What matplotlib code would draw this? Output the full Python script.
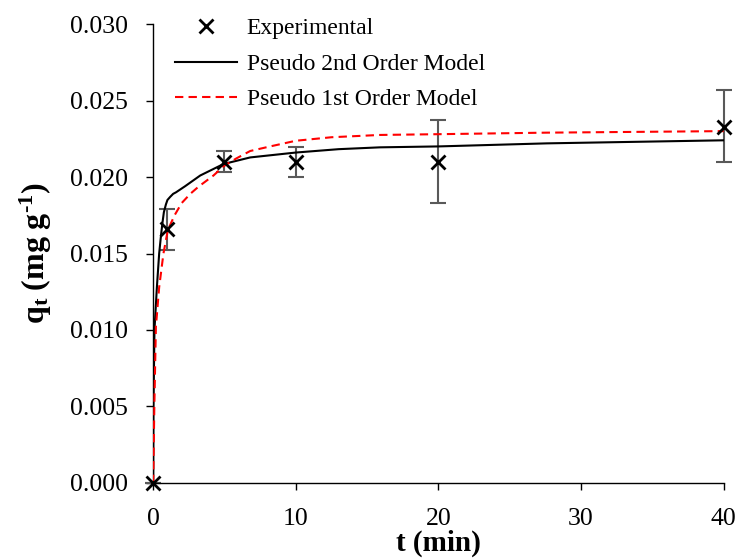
import numpy as np
import matplotlib
matplotlib.use('Agg')
import matplotlib.pyplot as plt

plt.rcParams['font.family'] = 'Liberation Serif'
plt.rcParams['mathtext.fontset'] = 'custom'
plt.rcParams['mathtext.rm'] = 'Liberation Serif'
plt.rcParams['mathtext.it'] = 'Liberation Serif:italic'
plt.rcParams['mathtext.bf'] = 'Liberation Serif:bold'

# experimental points with error bars
t_exp = [0, 1, 5, 10, 20, 40]
q_exp = [0.0, 0.0166, 0.0210, 0.0210, 0.0210, 0.0233]
err_low = [0.0, 0.00137, 0.00070, 0.00100, 0.00270, 0.00230]
err_high = [0.0, 0.00130, 0.00067, 0.00098, 0.00270, 0.00240]

# pseudo 2nd order model curve
t_pso = [0, 0.02, 0.09, 0.26, 0.42, 0.55, 0.65, 0.75, 0.89, 1.0, 1.19, 1.4, 1.6, 2.24, 3.3, 4.93, 6.8, 10,
         13, 15.9, 20, 27.6, 40]
q_pso = [0, 0.0050, 0.0100, 0.0128, 0.0150, 0.0162, 0.0170, 0.0177, 0.0182, 0.0185, 0.0187, 0.0189, 0.0190,
         0.0194, 0.0201, 0.02085, 0.02128, 0.0216, 0.02182, 0.02194, 0.0220, 0.0222, 0.0224]

# pseudo 1st order model curve
t_pfo = [0, 0.08, 0.19, 0.42, 0.72, 1.03, 1.5, 2.0, 2.6, 3.18, 4.23, 4.93, 5.8, 6.8, 8.2, 10, 12.5, 15.9,
         20, 27.6, 40]
q_pfo = [0, 0.0050, 0.0102, 0.0128, 0.0150, 0.01654, 0.0175, 0.0183, 0.0189, 0.01937, 0.0201, 0.0207,
         0.0212, 0.0217, 0.0220, 0.02237, 0.0226, 0.02275, 0.0228, 0.0229, 0.0230]

fig = plt.figure(figsize=(7.4, 5.59), dpi=100)
ax = fig.add_axes([0.207, 0.136, 0.771, 0.821])

ax.errorbar(t_exp, q_exp, yerr=[err_low, err_high], fmt='none', ecolor='#595959',
            elinewidth=1.5, capsize=5.5, capthick=1.5, zorder=2, clip_on=False)
ax.plot(t_exp, q_exp, 'x', color='black', markersize=10, markeredgewidth=2,
        label='Experimental', zorder=4, clip_on=False)
ax.plot(t_pso, q_pso, '-', color='black', linewidth=1.5, label='Pseudo 2nd Order Model', zorder=3)
ax.plot(t_pfo, q_pfo, '--', color='red', linewidth=1.5, dashes=(4, 2.5),
        label='Pseudo 1st Order Model', zorder=3)

ax.set_xlim(0, 40)
ax.set_ylim(0, 0.030)
ax.set_xticks([0, 10, 20, 30, 40])
ax.set_yticks(np.arange(0, 0.0301, 0.005))
ax.yaxis.set_major_formatter(matplotlib.ticker.FormatStrFormatter('%.3f'))
ax.tick_params(direction='out', length=5, width=1, labelsize=18.5, pad=13)
ax.spines['top'].set_visible(False)
ax.spines['right'].set_visible(False)
for s in ['left', 'bottom']:
    ax.spines[s].set_linewidth(1)

ax.set_xlabel('t (min)', fontsize=21, fontweight='bold', labelpad=0)
ax.set_ylabel('$\\mathbf{q_t\\ (mg\\ g^{\u20101})}$', fontsize=23, labelpad=12)

ax.legend(loc='upper left', bbox_to_anchor=(0.013, 1.045), frameon=False, fontsize=17,
          handlelength=2.65, handletextpad=0.4, labelspacing=0.6, borderaxespad=0.2)

fig.savefig('out.png', dpi=100)
